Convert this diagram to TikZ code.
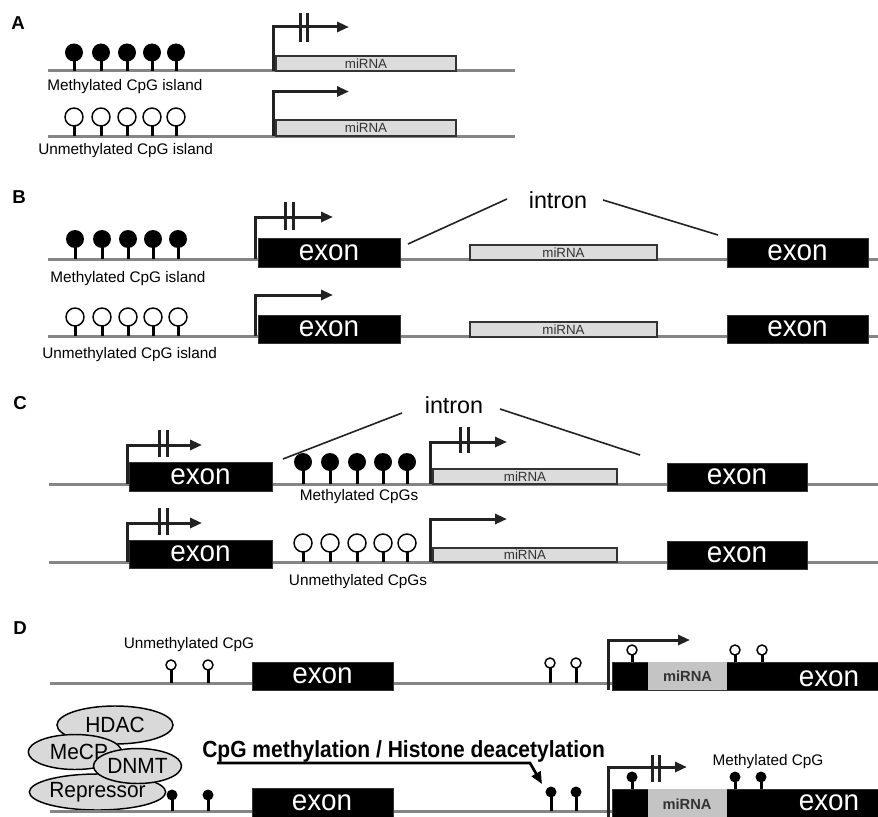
\documentclass[tikz,border=0pt]{standalone}
\usepackage{fontspec}
\setmainfont{Liberation Sans}
\newfontfamily\stretchf[FakeStretch=0.95]{Liberation Sans}
\newfontfamily\condf[FakeStretch=0.9]{Liberation Sans}
\usetikzlibrary{arrows.meta,shapes.geometric}
\definecolor{dnagray}{HTML}{858585}
\definecolor{boxgray}{HTML}{DCDCDC}
\definecolor{ink}{HTML}{222222}
\definecolor{mirtext}{HTML}{333333}
\definecolor{ellgray}{HTML}{D9D9D9}
\definecolor{dmir}{HTML}{C4C4C4}
\tikzset{
  dna/.style={draw=dnagray, line width=2.25pt},
  exonbox/.style={fill=black, draw=black!80, line width=0.6pt, inner sep=0pt, text=white, font=\stretchf\fontsize{22}{22}\selectfont},
  exontxt/.style={text=white, inner sep=0pt, font=\stretchf\fontsize{22}{22}\selectfont},
  mirbox/.style={fill=boxgray, draw=mirtext, line width=1pt, inner sep=0pt, text=mirtext, font=\fontsize{10}{10}\selectfont},
  dmirbox/.style={fill=dmir, draw=none, inner sep=0pt, text=mirtext, font=\bfseries\fontsize{11}{11}\selectfont},
  prom/.style={draw=ink, line width=2.25pt, line join=miter, -{Triangle[length=9pt,width=7.5pt]}},
  barline/.style={draw=ink, line width=2.25pt},
  stemline/.style={draw=black, line width=2.25pt},
  openball/.style={draw=black, fill=white, line width=1.1pt},
  intronline/.style={draw=ink, line width=1.2pt},
  captxt/.style={inner sep=0pt, font=\fontsize{11.5}{12}\selectfont},
  panel/.style={inner sep=0pt, font=\bfseries\fontsize{14}{14}\selectfont},
  introntext/.style={inner sep=0pt, font=\fontsize{17.5}{18}\selectfont},
  protein/.style={ellipse, draw=black, fill=ellgray, line width=1.1pt, inner sep=0pt, font=\stretchf\fontsize{16.5}{17}\selectfont}
}
\newcommand{\exonword}{\raisebox{-4pt}{exon}}
% box from (x1,y1) to (x2,y2) in pixels
\newcommand{\rbox}[7]{\node[#1, minimum width={(#5-#3)*0.75pt}, minimum height={(#6-#4)*0.75pt}] (#2) at ({(#3+#5)/2},{(#4+#6)/2}) {#7};}
% filled lollipop: x, line y, circle y, radius px
\newcommand{\mlol}[4]{\draw[stemline] (#1,#2) -- (#1,#3); \fill (#1,#3) circle[radius={#4*0.75pt}];}
% open lollipop
\newcommand{\ulol}[4]{\draw[stemline] (#1,#2) -- (#1,#3+#4); \draw[openball] (#1,#3) circle[radius={#4*0.75pt}];}
% promoter arrow: x, bottom y, top y, tip x
\newcommand{\promoter}[4]{\draw[prom] (#1,#2) -- (#1,#3) -- (#4,#3);}
% blocking bars: x1, x2, y1, y2
\newcommand{\blockbars}[4]{\draw[barline] (#1,#3) -- (#1,#4) (#2,#3) -- (#2,#4);}
\begin{document}
\begin{tikzpicture}[x=0.75pt,y=-0.75pt]
\useasboundingbox (0,0) rectangle (878,817);
\clip (0,0) rectangle (878,817);
% ---------------- Panel A ----------------
\node[panel] (labA) at (18,23) {A};
\draw[dna] (48,71) -- (515,71);
\foreach \x in {74,101,127,152,176} {\mlol{\x}{71}{52.5}{9}}
\rbox{mirbox}{aMir1}{276}{56}{456}{71}{miRNA}
\promoter{273}{71}{27}{349}
\blockbars{300}{307}{13.5}{42}
\node[captxt, anchor=west] (aT1) at (47,87) {Methylated CpG island};
\draw[dna] (48,136) -- (515,136);
\foreach \x in {74,101,127,152,176} {\ulol{\x}{136}{117}{9}}
\rbox{mirbox}{aMir2}{276}{120}{456}{136}{miRNA}
\promoter{273}{136}{91.5}{349}
\node[captxt, anchor=west] (aT2) at (38,151) {Unmethylated CpG island};
% ---------------- Panel B ----------------
\node[panel] (labB) at (19,197) {B};
\node[introntext] (bIntron) at (558,200) {intron};
\draw[dna] (48,259) -- (878,259);
\foreach \x in {75,102,128,153,178} {\mlol{\x}{259}{239}{9}}
\rbox{exonbox}{bE1}{258}{238}{400}{267}{\exonword}
\rbox{exonbox}{bE2}{727}{238}{868}{267}{\exonword}
\rbox{mirbox}{bMir1}{470}{245}{657}{260}{miRNA}
\promoter{255}{259}{217}{333}
\blockbars{285}{293}{202}{230}
\coordinate (bL1) at (408,244); \coordinate (bL2) at (507,199);
\coordinate (bR1) at (603,200); \coordinate (bR2) at (718,235);
\draw[intronline] (bL1) -- (bL2);
\draw[intronline] (bR1) -- (bR2);
\node[captxt, anchor=west] (bT1) at (50,279) {Methylated CpG island};
\draw[dna] (48,336) -- (878,336);
\foreach \x in {75,102,128,153,178} {\ulol{\x}{336}{317}{9}}
\rbox{exonbox}{bE3}{258}{315}{400}{343}{\exonword}
\rbox{exonbox}{bE4}{727}{315}{868}{343}{\exonword}
\rbox{mirbox}{bMir2}{470}{322}{657}{337}{miRNA}
\promoter{255}{336}{295}{333}
\node[captxt, anchor=west] (bT2) at (42,355) {Unmethylated CpG island};
% ---------------- Panel C ----------------
\node[panel] (labC) at (20,403) {C};
\node[introntext] (cIntron) at (454,405) {intron};
\coordinate (cL1) at (283,459); \coordinate (cL2) at (402,413);
\coordinate (cR1) at (500,409); \coordinate (cR2) at (640,455);
\draw[intronline] (cL1) -- (cL2);
\draw[intronline] (cR1) -- (cR2);
\draw[dna] (49,484) -- (878,484);
\rbox{exonbox}{cE1}{129}{462}{272}{491}{\exonword}
\rbox{exonbox}{cE2}{667}{463}{807}{491}{\exonword}
\rbox{mirbox}{cMir1}{433}{469}{617}{484}{miRNA}
\promoter{127}{484}{445}{202}
\blockbars{159}{167}{430}{457}
\promoter{430}{484}{442}{507}
\blockbars{460}{468}{427}{453}
\foreach \x in {303,330,357,383,407} {\mlol{\x}{484}{462}{9}}
\node[captxt] (cT1) at (359,497) {Methylated CpGs};
\draw[dna] (49,562) -- (878,562);
\rbox{exonbox}{cE3}{129}{540}{272}{568}{\exonword}
\rbox{exonbox}{cE4}{667}{541}{807}{569}{\exonword}
\rbox{mirbox}{cMir2}{433}{548}{617}{562}{miRNA}
\promoter{127}{562}{523}{202}
\blockbars{159}{167}{508}{535}
\promoter{430}{562}{519}{507}
\foreach \x in {303,330,357,383,407} {\ulol{\x}{562}{543}{9}}
\node[captxt] (cT2) at (358,582) {Unmethylated CpGs};
% ---------------- Panel D ----------------
\node[panel] (labD) at (20,628) {D};
\node[captxt] (dT1) at (189,645) {Unmethylated CpG};
\draw[dna] (50,683) -- (612,683);
\foreach \x in {171,208} {\ulol{\x}{683}{665}{5}}
\foreach \x in {550,576} {\ulol{\x}{683}{663}{5}}
\rbox{exonbox}{dE1}{252}{662}{393}{690}{\exonword}
\promoter{608}{690}{640}{690}
\rbox{exonbox}{dE2}{612}{662}{878}{690}{}
\rbox{dmirbox}{dMir1}{648}{662}{727}{690}{miRNA}
\node[exontxt] (dX1) at (829,679) {exon};
\foreach \x in {632,735,762} {\ulol{\x}{662}{650}{5}}
% proteins
\node[protein, minimum width={116*0.75pt}, minimum height={38*0.75pt}] (hdac) at (115,725) {HDAC};
\node[protein, minimum width={86*0.75pt}, minimum height={35*0.75pt}] (mecp) at (75,752) {\hspace*{6pt}MeCP};
\node[protein, minimum width={115*0.75pt}, minimum height={36*0.75pt}] (repr) at (97.5,792) {Repressor};
\node[protein, minimum width={88*0.75pt}, minimum height={35*0.75pt}] (dnmt) at (137.5,766) {DNMT};
\node[inner sep=0pt, anchor=west, font=\condf\bfseries\fontsize{17.5}{18}\selectfont] (dMeth) at (202,751) {CpG methylation / Histone deacetylation};
\coordinate (dA1) at (217,763); \coordinate (dA2) at (530,763); \coordinate (dA3) at (542,784);
\draw[draw=black, line width=2pt, line join=miter, -{Triangle[length=9pt,width=7.5pt]}] (dA1) -- (dA2) -- (dA3);
\draw[dna] (50,811) -- (612,811);
\foreach \x in {172,208} {\mlol{\x}{811}{795}{5.5}}
\foreach \x in {551,576} {\mlol{\x}{811}{792}{5.5}}
\rbox{exonbox}{dE3}{252}{788}{393}{822}{}
\node[exontxt] (dX3) at (322,803) {exon};
\promoter{608}{817}{767}{687}
\blockbars{652}{659}{755}{782}
\rbox{exonbox}{dE4}{612}{789}{878}{822}{}
\rbox{dmirbox}{dMir2}{648}{789}{727}{822}{}
\node[inner sep=0pt, text=mirtext, font=\bfseries\fontsize{11}{11}\selectfont] (dMirT) at (687,804) {miRNA};
\node[exontxt] (dX4) at (829,803) {exon};
\foreach \x in {632,735,761} {\mlol{\x}{789}{777}{5.5}}
\node[captxt] (dT2) at (768,762) {Methylated CpG};
\end{tikzpicture}
\end{document}
